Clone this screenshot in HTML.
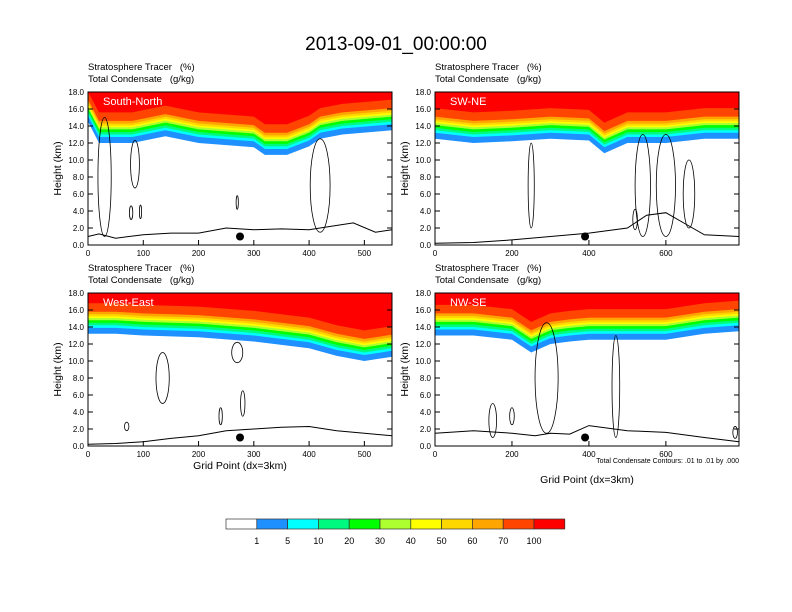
<!DOCTYPE html>
<html><head><meta charset="utf-8">
<style>
body{margin:0;background:#fff;}
svg{display:block;font-family:"Liberation Sans",sans-serif;}
text{white-space:pre;}
</style></head>
<body>
<svg id="c" width="792" height="612"></svg>
<script>
const colors=["#1e90ff","#00ffff","#00fa80","#00ff00","#adff2f","#ffff00","#ffd700","#ffa500","#ff4500","#ff0000"];
const levelLabels=["1","5","10","20","30","40","50","60","70","100"];
const bandOffsets=[0,0.7,1.0,1.3,1.6,1.85,2.05,2.3,2.6,3.6];
const yTicks=[0,2,4,6,8,10,12,14,16,18];
// panel data
const tlX=[0,20,40,80,140,200,280,300,320,360,400,420,460,550];
const tlBase=[14.5,12,12,12,12.8,12,11.6,11.5,10.6,10.6,11.6,12.5,13,13.5];
const tlTerrX=[0,20,50,100,150,200,250,300,350,400,430,480,520,550];
const tlTerr=[1,1.3,0.8,1.2,1.4,1.4,2,1.8,1.9,1.8,2.1,2.6,1.5,1.8];
const trX=[0,100,200,300,400,440,500,600,700,790];
const trBase=[12.5,12,12.2,12.5,12.3,10.8,12,12,12.5,12.5];
const trTerrX=[0,100,200,300,400,500,550,600,650,700,790];
const trTerr=[0.2,0.3,0.6,1.0,1.4,2.0,3.5,3.8,2.5,1.2,1.0];
const blX=[0,50,100,200,300,400,450,500,550];
const blBase=[13.2,13.2,13,12.8,12.3,11.5,10.6,10,10.5];
const blTerrX=[0,50,100,150,200,250,300,350,400,450,500,550];
const blTerr=[0.2,0.3,0.5,0.9,1.2,1.8,2,2.2,2.3,1.8,1.5,1.2];
const brX=[0,100,200,250,300,350,400,500,600,700,790];
const brBase=[13,13,12.5,11,12,12.3,12.5,12.5,12.5,13.2,13.5];
const brTerrX=[0,100,200,260,300,350,400,500,600,700,790];
const brTerr=[1.5,1.8,1.5,1.2,1.5,1.4,2.4,1.8,1.6,1.0,0.5];
// condensate contours: [center x, center km, half-width grid, half-height km]
const tlCont=[[30,8,12,7],[85,9.5,8,2.8],[420,7,18,5.5],[78,3.8,3,0.8],[95,3.9,2,0.8],[270,5,2,0.8]];
const trCont=[[540,7,20,6],[600,7,25,6],[660,6,15,4],[250,7,8,5],[520,3,6,1.2]];
const blCont=[[270,11,10,1.2],[135,8,12,3],[280,5,4,1.5],[240,3.5,3,1],[70,2.3,4,0.5]];
const brCont=[[290,8,30,6.5],[470,7,10,6],[150,3,10,2],[200,3.5,6,1],[780,1.6,6,0.7]];

const panels=[
 {name:"South-North",x0:88,y0:92,xs:tlX,bs:tlBase,tx:tlTerrX,ts:tlTerr,cs:tlCont,xmax:550,ticks:[0,100,200,300,400,500],dot:275,xlabel:false},
 {name:"SW-NE",x0:435,y0:92,xs:trX,bs:trBase,tx:trTerrX,ts:trTerr,cs:trCont,xmax:790,ticks:[0,200,400,600],dot:390,xlabel:false},
 {name:"West-East",x0:88,y0:293,xs:blX,bs:blBase,tx:blTerrX,ts:blTerr,cs:blCont,xmax:550,ticks:[0,100,200,300,400,500],dot:275,xlabel:true},
 {name:"NW-SE",x0:435,y0:293,xs:brX,bs:brBase,tx:brTerrX,ts:brTerr,cs:brCont,xmax:790,ticks:[0,200,400,600],dot:390,xlabel:true,note:true}
];
const W=304,H=153;
const svg=document.getElementById('c');
const NS="http://www.w3.org/2000/svg";
function mk(t,a,p){const e=document.createElementNS(NS,t);for(const k in a)e.setAttribute(k,a[k]);(p||svg).appendChild(e);return e;}
function txt(s,a,p){const e=mk('text',a,p);e.textContent=s;return e;}
const title=txt("2013-09-01_00:00:00",{x:396,y:50,"text-anchor":"middle","font-size":19});



panels.forEach((P,pi)=>{
 const g=mk('g',{});
 
 
 const sx=v=>P.x0+v/P.xmax*W, sy=v=>P.y0+H-v/18*H;
 for(let b=0;b<colors.length;b++){
  let pts=P.xs.map((x,i)=>sx(x)+","+sy(Math.min(18,P.bs[i]+bandOffsets[b])));
  const d="M"+pts.join("L")+"L"+sx(P.xmax)+","+sy(18)+"L"+sx(0)+","+sy(18)+"Z";
  const band=mk('path',{d:d,fill:colors[b]},g);
  
  
 }
 P.cs.forEach(c=>{
  const e=mk('ellipse',{cx:sx(c[0]),cy:sy(c[1]),rx:c[2]/P.xmax*W,ry:c[3]/18*H,fill:"none",stroke:"#000","stroke-width":0.8},g);
  
  
 });
 const tp=mk('polyline',{points:P.tx.map((x,i)=>sx(x)+","+sy(P.ts[i])).join(" "),fill:"none",stroke:"#000","stroke-width":1},g);
 
 
 const dot=mk('circle',{cx:sx(P.dot),cy:sy(1),r:4,fill:"#000"},g);
 
 
 const fr=mk('rect',{x:P.x0,y:P.y0,width:W,height:H,fill:"none",stroke:"#000","stroke-width":1},g);
 
 
 const lab=txt(P.name,{x:P.x0+15,y:P.y0+13,fill:"#fff","font-size":11},g);
 
 
 const t1=txt("Stratosphere Tracer   (%)",{x:P.x0,y:P.y0-22,"font-size":9.5},g);
 
 
 const t2=txt("Total Condensate   (g/kg)",{x:P.x0,y:P.y0-10,"font-size":9.5},g);
 
 
 yTicks.forEach(v=>{
  mk('line',{x1:P.x0,x2:P.x0+5,y1:sy(v),y2:sy(v),stroke:"#000"},g);
  mk('line',{x1:P.x0+W,x2:P.x0+W-5,y1:sy(v),y2:sy(v),stroke:"#000"},g);
  const tl=txt(v.toFixed(1),{x:P.x0-4,y:sy(v)+3,"text-anchor":"end","font-size":8},g);
  
  
 });
 P.ticks.forEach(v=>{
  mk('line',{x1:sx(v),x2:sx(v),y1:P.y0+H,y2:P.y0+H-5,stroke:"#000"},g);
  const tl=txt(String(v),{x:sx(v),y:P.y0+H+11,"text-anchor":"middle","font-size":8},g);
  
  
 });
 const yt=txt("Height (km)",{x:0,y:0,"text-anchor":"middle","font-size":10.5,transform:`translate(${P.x0-27},${P.y0+H/2}) rotate(-90)`},g);
 
 
 if(P.xlabel){
  const xt=txt("Grid Point (dx=3km)",{x:P.x0+W/2,y:P.note?483:469,"text-anchor":"middle","font-size":10.5},g);
  
  
 }
 if(P.note){
  const n=txt("Total Condensate Contours: .01 to .01 by .000",{x:P.x0+W,y:P.y0+H+17,"text-anchor":"end","font-size":7},g);
  
  
 }
});
const cb=mk('g',{});


const cbColors=["#ffffff"].concat(colors);
const bw=30.8;
cbColors.forEach((c,i)=>{
 const r=mk('rect',{x:226+i*bw,y:519,width:bw,height:10,fill:c,stroke:"#333","stroke-width":0.7},cb);
 
 
});
levelLabels.forEach((l,i)=>{
 const t=txt(l,{x:226+(i+1)*bw,y:544,"text-anchor":"middle","font-size":9},cb);
 
 
});
</script>
</body></html>
